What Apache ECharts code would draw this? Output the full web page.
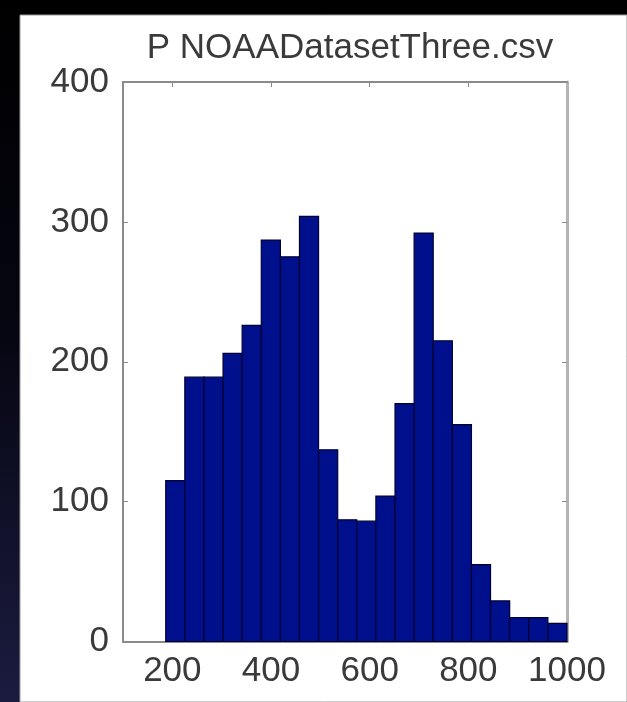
<!DOCTYPE html>
<html>
<head>
<meta charset="utf-8">
<script src="https://cdn.jsdelivr.net/npm/echarts@6/dist/echarts.min.js"></script>
<style>
html,body{margin:0;padding:0;}
body{width:627px;height:702px;background:linear-gradient(180deg,#000 0%,#050510 45%,#1b1b40 100%);overflow:hidden;}
#chart{position:absolute;left:0;top:0;width:627px;height:702px;}
</style>
</head>
<body>
<div id="chart"></div>
<script>
// ---- data ----
const title = 'P NOAADatasetThree.csv';
const binEdges = [186.6, 225.3, 264.1, 302.8, 341.5, 380.3, 419.0, 457.7, 496.4, 535.2, 573.9,
                  612.6, 651.4, 690.1, 728.8, 767.6, 806.3, 845.0, 883.8, 922.5, 961.2, 1000];
const counts = [115, 189, 189, 206, 226, 287, 275, 304, 137, 87, 86, 104, 170, 292, 215, 155, 55, 29, 17, 17, 13];
const xTickLabels = [200, 400, 600, 800, 1000];
const yTickLabels = [0, 100, 200, 300, 400];

const data = counts.map((c, i) => [binEdges[i], binEdges[i + 1], c]);

const chart = echarts.init(document.getElementById('chart'));
const fontFam = '"Liberation Sans", Arial, Helvetica, sans-serif';
const lineCol = '#8a8a8a';
const txtCol = '#3a3a3a';
chart.setOption({
  animation: false,
  backgroundColor: 'transparent',
  graphic: [{
    type: 'rect', z: -10, silent: true,
    shape: {x: 20, y: 15, width: 607, height: 687},
    style: {fill: '#ffffff', stroke: '#9a9a9a', lineWidth: 1}
  }],
  title: {
    text: title, left: 345, top: 26, textAlign: 'center',
    textStyle: {fontFamily: fontFam, fontSize: 35, fontWeight: 'normal', color: txtCol}
  },
  grid: {left: 123, right: 60, top: 82, bottom: 60.5},
  xAxis: [{
    type: 'value', min: 100, max: 1000, interval: 100, position: 'bottom',
    axisLine: {show: true, onZero: false, lineStyle: {color: lineCol, width: 2}},
    axisTick: {show: true, inside: true, length: 5, customValues: [200, 400, 600, 800], lineStyle: {color: lineCol}},
    axisLabel: {customValues: xTickLabels, formatter: v => String(v), fontFamily: fontFam, fontSize: 35, color: txtCol, margin: 12},
    splitLine: {show: false}
  }, {
    type: 'value', min: 100, max: 1000, interval: 100, position: 'top',
    axisLine: {show: true, onZero: false, lineStyle: {color: lineCol, width: 2}},
    axisTick: {show: true, inside: true, length: 5, customValues: [200, 400, 600, 800], lineStyle: {color: lineCol}},
    axisLabel: {show: false}, splitLine: {show: false}
  }],
  yAxis: [{
    type: 'value', min: 0, max: 400, interval: 100, position: 'left',
    axisLine: {show: true, lineStyle: {color: lineCol, width: 2}},
    axisTick: {show: true, inside: true, length: 5, lineStyle: {color: lineCol}},
    axisLabel: {customValues: yTickLabels, formatter: v => String(v), fontFamily: fontFam, fontSize: 35, color: txtCol, margin: 14},
    splitLine: {show: false}
  }, {
    type: 'value', min: 0, max: 400, interval: 100, position: 'right',
    axisLine: {show: true, lineStyle: {color: '#b5b5b5', width: 3}},
    axisTick: {show: true, inside: true, length: 5, lineStyle: {color: lineCol}},
    axisLabel: {show: false}, splitLine: {show: false}
  }],
  series: [{
    type: 'custom',
    xAxisIndex: 0, yAxisIndex: 0,
    encode: {x: [0, 1], y: 2},
    data: data,
    renderItem: function (params, api) {
      const p0 = api.coord([api.value(0), api.value(2)]);
      const p1 = api.coord([api.value(1), 0]);
      return {
        type: 'rect',
        shape: {x: p0[0], y: p0[1], width: p1[0] - p0[0], height: p1[1] - p0[1]},
        style: {fill: '#00108c', stroke: '#000033', lineWidth: 1.2}
      };
    }
  }]
});
</script>
</body>
</html>
